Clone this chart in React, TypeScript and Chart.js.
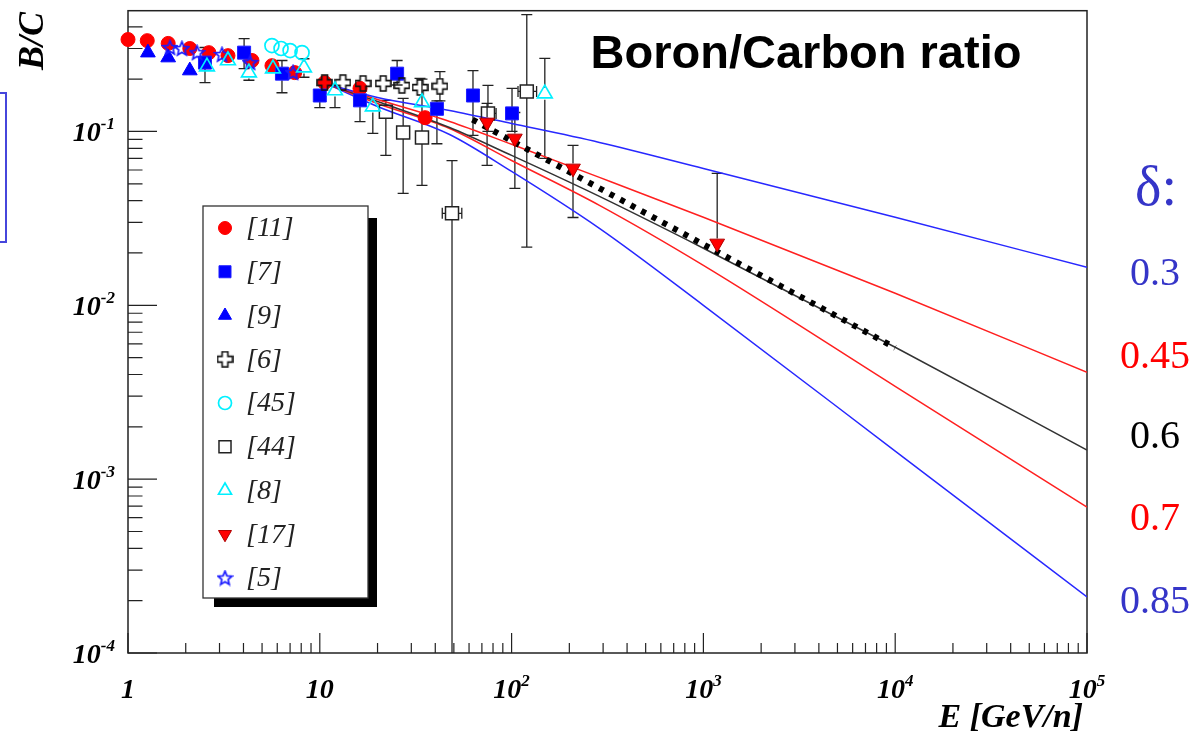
import React, { useEffect, useRef } from 'react';
import { Chart, registerables } from 'chart.js';
import { drawPoint } from 'chart.js/helpers';

Chart.register(...registerables);

// ---------------- data ----------------
// [11] red filled circles
const E_11 = [1, 1.26, 1.62, 2.1, 2.64, 3.32, 4.43, 5.63, 7.4, 10.6, 16.2, 35.4];
const V_11 = [0.338, 0.333, 0.321, 0.3, 0.284, 0.273, 0.256, 0.239, 0.218, 0.191, 0.177, 0.12];

// [7] blue filled squares
const E_7 = [2.52, 4.03, 6.35, 10.0, 16.2, 25.3, 40.8, 62.9, 100.5];
const V_7 = [0.249, 0.284, 0.215, 0.161, 0.151, 0.215, 0.135, 0.161, 0.127];
const V_7_HI = [0.304, 0.342, 0.256, 0.177, 0.17, 0.256, 0.15, 0.224, 0.177];
const V_7_LO = [0.191, 0.23, 0.167, 0.137, 0.114, 0.185, 0.085, 0.095, 0.1];

// [9] blue filled triangles
const E_9 = [1.27, 1.62, 2.1];
const V_9 = [0.284, 0.266, 0.224];

// [6] open crosses
const E_6 = [10.6, 13.2, 16.8, 21.4, 26.8, 33.3, 42.3];
const V_6 = [0.191, 0.191, 0.189, 0.189, 0.184, 0.179, 0.182];
const V_6_HI = [0.2, 0.2, 0.2, 0.2, 0.195, 0.202, 0.221];
const V_6_LO = [0.182, 0.182, 0.18, 0.18, 0.175, 0.17, 0.15];

// [45] cyan open circles
const E_45 = [5.63, 6.28, 7.0, 8.08];
const V_45 = [0.312, 0.3, 0.292, 0.284];

// [44] black open squares
const E_44 = [22.1, 27.2, 34.1, 48.9, 75.3, 120];
const V_44 = [0.13, 0.0987, 0.0924, 0.0338, 0.127, 0.17];
const V_44_HI = [0.151, 0.155, 0.2, 0.068, 0.184, 0.47];
const V_44_LO = [0.0728, 0.044, 0.049, 0.000001, 0.1, 0.0216];
const E_44_LO = [22.1, 27.2, 34.1, 43.5, 70, 108];
const E_44_HI = [22.1, 27.2, 34.1, 55, 83, 135];

// [8] cyan open triangles
const E_8 = [2.58, 3.32, 4.27, 5.7, 8.27, 12.0, 18.9, 34.1, 149];
const V_8 = [0.236, 0.256, 0.218, 0.23, 0.233, 0.172, 0.139, 0.147, 0.165];
const V_8_HI = [0.25, 0.256, 0.218, 0.23, 0.262, 0.18, 0.145, 0.147, 0.263];
const V_8_LO = [0.22, 0.256, 0.197, 0.23, 0.205, 0.137, 0.0974, 0.147, 0.07];

// [17] red filled down triangles
const E_17 = [74.5, 104, 209, 1180];
const V_17 = [0.1127, 0.0912, 0.0613, 0.0227];
const V_17_HI = [0.145, 0.1285, 0.0831, 0.0574];
const V_17_LO = [0.0638, 0.047, 0.032, 0.0227];

// [5] blue open stars
const E_5 = [1.655, 1.91, 2.29, 3.09, 4.33, 7.25];
const V_5 = [0.304, 0.3, 0.284, 0.277, 0.249, 0.218];

// model curves for different delta
const E_MODEL = [11, 20, 47.5, 100, 287, 1000, 10000, 100000];
const D_030 = [0.187, 0.1568, 0.132, 0.1111, 0.0865, 0.0613, 0.0321, 0.01653];
const D_045 = [0.187, 0.1528, 0.1142, 0.0844, 0.0544, 0.0321, 0.01172, 0.00412];
const D_060 = [0.187, 0.1487, 0.1054, 0.0728, 0.0423, 0.0213, 0.00574, 0.00147];
const D_070 = [0.187, 0.1449, 0.104, 0.0681, 0.0376, 0.01698, 0.00342, 0.00069];
const D_085 = [0.187, 0.1392, 0.0961, 0.0589, 0.0277, 0.01, 0.00145, 0.00021];

// dotted fit
const E_DOT = [62.5, 1000, 10000];
const V_DOT = [0.117, 0.0224, 0.0057];

// axis ticks / labels
const X_MAJOR = [1, 10, 100, 1000, 10000, 100000];
const X_LABEL_BASE = ['1', '10', '10', '10', '10', '10'];
const X_LABEL_EXP = ['', '', '2', '3', '4', '5'];
const Y_MAJOR = [0.1, 0.01, 0.001, 0.0001];
const Y_LABEL_EXP = ['-1', '-2', '-3', '-4'];

const DELTA_LABELS = ['0.3', '0.45', '0.6', '0.7', '0.85'];
const DELTA_COLORS = ['#3535c8', '#ff0000', '#000000', '#ff0000', '#3535c8'];

const LEGEND_ORDER = ['[11]', '[7]', '[9]', '[6]', '[45]', '[44]', '[8]', '[17]', '[5]'];

// ---------------- helpers ----------------
const pts = (E: number[], V: number[]) => E.map((e, i) => ({ x: e, y: V[i] }));

function makeStar(color: string, size: number) {
  const c = document.createElement('canvas');
  c.width = size;
  c.height = size;
  const ctx = c.getContext('2d')!;
  const cx = size / 2, cy = size / 2 + 0.5;
  const R = size / 2 - 1.2, r = R * 0.45;
  ctx.beginPath();
  for (let i = 0; i < 10; i++) {
    const a = -Math.PI / 2 + (i * Math.PI) / 5;
    const rr = i % 2 === 0 ? R : r;
    const px = cx + rr * Math.cos(a), py = cy + rr * Math.sin(a);
    if (i === 0) ctx.moveTo(px, py); else ctx.lineTo(px, py);
  }
  ctx.closePath();
  ctx.strokeStyle = color;
  ctx.lineWidth = 1.7;
  ctx.stroke();
  return c;
}

function makeOpenCross(color: string, size: number) {
  const c = document.createElement('canvas');
  c.width = size;
  c.height = size;
  const ctx = c.getContext('2d')!;
  const m = size / 2;
  const R = size / 2 - 1;
  const a = size * 0.17;
  const p = [[-a, -R], [a, -R], [a, -a], [R, -a], [R, a], [a, a], [a, R], [-a, R], [-a, a], [-R, a], [-R, -a], [-a, -a]];
  ctx.beginPath();
  p.forEach(([x, y], i) => (i === 0 ? ctx.moveTo(m + x, m + y) : ctx.lineTo(m + x, m + y)));
  ctx.closePath();
  ctx.strokeStyle = color;
  ctx.lineWidth = 1.6;
  ctx.stroke();
  return c;
}

function drawPow(ctx: CanvasRenderingContext2D, base: string, exp: string, x: number, y: number,
  align: 'center' | 'right', baseFont: string, supFont: string, rise: number) {
  ctx.font = baseFont;
  const wb = ctx.measureText(base).width;
  ctx.font = supFont;
  const ws = exp ? ctx.measureText(exp).width : 0;
  const total = wb + ws;
  const x0 = align === 'center' ? x - total / 2 : x - total;
  ctx.textAlign = 'left';
  ctx.font = baseFont;
  ctx.fillText(base, x0, y);
  if (exp) {
    ctx.font = supFont;
    ctx.fillText(exp, x0 + wb, y - rise);
  }
}

// ---------------- plugins ----------------
const framePlugin = {
  id: 'rootFrame',
  beforeDatasetsDraw(chart: any) {
    const ctx: CanvasRenderingContext2D = chart.ctx;
    const { left, right, top, bottom } = chart.chartArea;
    const xs = chart.scales.x, ys = chart.scales.y;
    ctx.save();
    ctx.strokeStyle = '#222';
    ctx.lineWidth = 1.5;
    ctx.strokeRect(left, top, right - left, bottom - top);
    ctx.lineWidth = 1.2;
    ctx.beginPath();
    for (let k = 0; k <= 5; k++) {
      for (let m = 1; m <= 9; m++) {
        const v = m * Math.pow(10, k);
        if (v > 100000 || v < 1) continue;
        const px = xs.getPixelForValue(v);
        const len = m === 1 ? 20 : 10;
        ctx.moveTo(px, bottom);
        ctx.lineTo(px, bottom - len);
      }
    }
    for (let k = -4; k <= -1; k++) {
      for (let m = 1; m <= 9; m++) {
        const v = m * Math.pow(10, k);
        if (v > ys.max) continue;
        const py = ys.getPixelForValue(v);
        const len = m === 1 ? 29 : 14.5;
        ctx.moveTo(left, py);
        ctx.lineTo(left + len, py);
      }
    }
    ctx.stroke();
    ctx.restore();
  },
};

const errorBarPlugin = {
  id: 'errBars',
  beforeDatasetsDraw(chart: any) {
    const ctx: CanvasRenderingContext2D = chart.ctx;
    const xs = chart.scales.x, ys = chart.scales.y;
    const area = chart.chartArea;
    ctx.save();
    ctx.beginPath();
    ctx.rect(area.left, area.top - 4, area.right - area.left, area.bottom - area.top + 4);
    ctx.clip();
    ctx.strokeStyle = '#222';
    ctx.lineWidth = 1.3;
    const cap = 5.5;
    chart.data.datasets.forEach((ds: any) => {
      if (!ds.errHi) return;
      const g = ds.errGap || 0;
      ds.data.forEach((p: any, i: number) => {
        const px = xs.getPixelForValue(p.x);
        const py = ys.getPixelForValue(p.y);
        const hi = ys.getPixelForValue(ds.errHi[i]);
        const lo = ys.getPixelForValue(Math.max(ds.errLo[i], 1e-9));
        ctx.beginPath();
        if (py - hi > g + 1) {
          ctx.moveTo(px, hi); ctx.lineTo(px, py - g);
          ctx.moveTo(px - cap, hi); ctx.lineTo(px + cap, hi);
        }
        if (lo - py > g + 1) {
          ctx.moveTo(px, py + g); ctx.lineTo(px, lo);
          if (lo < area.bottom) { ctx.moveTo(px - cap, lo); ctx.lineTo(px + cap, lo); }
        }
        if (ds.xErrLo) {
          const xl = xs.getPixelForValue(ds.xErrLo[i]);
          const xh = xs.getPixelForValue(ds.xErrHi[i]);
          if (px - xl > g + 1) {
            ctx.moveTo(xl, py); ctx.lineTo(px - g, py);
            ctx.moveTo(xl, py - cap); ctx.lineTo(xl, py + cap);
          }
          if (xh - px > g + 1) {
            ctx.moveTo(px + g, py); ctx.lineTo(xh, py);
            ctx.moveTo(xh, py - cap); ctx.lineTo(xh, py + cap);
          }
        }
        ctx.stroke();
      });
    });
    ctx.restore();
  },
};

const decorPlugin = {
  id: 'decor',
  afterDraw(chart: any) {
    const ctx: CanvasRenderingContext2D = chart.ctx;
    const xs = chart.scales.x, ys = chart.scales.y;
    const { left, bottom, right } = chart.chartArea;
    ctx.save();
    ctx.fillStyle = '#000';
    ctx.textBaseline = 'alphabetic';
    const bf = 'italic bold 28px "Liberation Serif"';
    const sf = 'italic bold 17px "Liberation Serif"';
    X_MAJOR.forEach((v, i) => {
      drawPow(ctx, X_LABEL_BASE[i], X_LABEL_EXP[i], xs.getPixelForValue(v), bottom + 45, 'center', bf, sf, 12);
    });
    Y_MAJOR.forEach((v, i) => {
      drawPow(ctx, '10', Y_LABEL_EXP[i], left - 13, ys.getPixelForValue(v) + 10, 'right', bf, sf, 12);
    });
    ctx.font = 'italic bold 34px "Liberation Serif"';
    ctx.textAlign = 'right';
    ctx.fillText('E [GeV/n]', right - 4, bottom + 74);
    ctx.save();
    ctx.translate(43, 12);
    ctx.rotate(-Math.PI / 2);
    ctx.font = 'italic bold 36px "Liberation Serif"';
    ctx.textAlign = 'right';
    ctx.fillText('B/C', 0, 0);
    ctx.restore();

    ctx.font = 'bold 47px "Liberation Sans"';
    ctx.textAlign = 'center';
    ctx.fillText('Boron/Carbon ratio', 806, 68);

    ctx.fillStyle = '#3535c8';
    ctx.font = '56px "Liberation Serif"';
    ctx.fillText('\u03b4:', 1156, 205);
    ctx.font = '40px "Liberation Serif"';
    const dy = [285, 368, 448, 530, 613];
    DELTA_LABELS.forEach((t, i) => {
      ctx.fillStyle = DELTA_COLORS[i];
      ctx.fillText(t, 1155, dy[i]);
    });

    ctx.strokeStyle = '#4646dc';
    ctx.lineWidth = 2;
    ctx.strokeRect(-20, 93, 26, 149);

    const lx = 203, ly = 206, lw = 165, lh = 392;
    ctx.fillStyle = '#000';
    ctx.fillRect(lx + 11, ly + 12, lw - 2, lh - 3);
    ctx.fillRect(lx + lw, ly + 12, 8, lh - 3);
    ctx.fillStyle = '#fff';
    ctx.fillRect(lx, ly, lw, lh);
    ctx.strokeStyle = '#333';
    ctx.lineWidth = 1.3;
    ctx.strokeRect(lx, ly, lw, lh);
    LEGEND_ORDER.forEach((lab, i) => {
      const ds: any = chart.data.datasets.find((d: any) => d.label === lab);
      const y = 228 + i * 43.75;
      if (ds) {
        ctx.save();
        ctx.fillStyle = ds.pointBackgroundColor;
        ctx.strokeStyle = ds.pointBorderColor;
        ctx.lineWidth = ds.pointBorderWidth;
        drawPoint(ctx, {
          pointStyle: ds.pointStyle,
          rotation: ds.pointRotation || 0,
          radius: ds.legendRadius || ds.pointRadius,
          borderWidth: ds.pointBorderWidth,
        } as any, 225, y);
        ctx.restore();
      }
      ctx.fillStyle = '#222';
      ctx.font = 'italic 28px "Liberation Serif"';
      ctx.textAlign = 'left';
      ctx.textBaseline = 'middle';
      ctx.fillText(lab, 246, y + 1);
      ctx.textBaseline = 'alphabetic';
    });
    ctx.restore();
  },
};

// ---------------- component ----------------
export default function App() {
  const ref = useRef<HTMLCanvasElement | null>(null);

  useEffect(() => {
    if (!ref.current) return;
    const star = makeStar('#1a1aff', 17);
    const cross = makeOpenCross('#111', 17);
    const modelLine = (label: string, data: number[], color: string) => ({
      label, data: pts(E_MODEL, data), showLine: true, borderColor: color, borderWidth: 1.5,
      pointRadius: 0, fill: false, order: 20, cubicInterpolationMode: 'monotone',
    });
    const chart = new Chart(ref.current, {
      type: 'scatter',
      data: {
        datasets: [
          {
            label: '[17]', data: pts(E_17, V_17), pointStyle: 'triangle', pointRotation: 180, pointRadius: 8.5,
            pointBackgroundColor: '#ff0000', pointBorderColor: '#b00000', pointBorderWidth: 1, legendRadius: 7.5,
            errHi: V_17_HI, errLo: V_17_LO, errGap: 5, order: 1, clip: false,
          },
          {
            label: '[8]', data: pts(E_8, V_8), pointStyle: 'triangle', pointRadius: 8.5,
            pointBackgroundColor: 'rgba(0,0,0,0)', pointBorderColor: '#00f0ff', pointBorderWidth: 1.7, legendRadius: 7.5,
            errHi: V_8_HI, errLo: V_8_LO, errGap: 6, order: 2, clip: false,
          },
          {
            label: '[5]', data: pts(E_5, V_5), pointStyle: star, pointRadius: 8,
            pointBackgroundColor: 'rgba(0,0,0,0)', pointBorderColor: '#1a1aff', pointBorderWidth: 1.5,
            order: 3, clip: false,
          },
          {
            label: '[6]', data: pts(E_6, V_6), pointStyle: cross, pointRadius: 8,
            pointBackgroundColor: 'rgba(0,0,0,0)', pointBorderColor: '#111', pointBorderWidth: 1.5,
            errHi: V_6_HI, errLo: V_6_LO, errGap: 7.5, order: 4, clip: false,
          },
          {
            label: '[44]', data: pts(E_44, V_44), pointStyle: 'rect', pointRadius: 9.2,
            pointBackgroundColor: 'rgba(0,0,0,0)', pointBorderColor: '#222', pointBorderWidth: 1.5, legendRadius: 8.5,
            errHi: V_44_HI, errLo: V_44_LO, xErrLo: E_44_LO, xErrHi: E_44_HI, errGap: 6.5, order: 5, clip: false,
          },
          {
            label: '[45]', data: pts(E_45, V_45), pointStyle: 'circle', pointRadius: 7,
            pointBackgroundColor: 'rgba(0,0,0,0)', pointBorderColor: '#00f0ff', pointBorderWidth: 1.7, legendRadius: 6.5,
            order: 6, clip: false,
          },
          {
            label: '[9]', data: pts(E_9, V_9), pointStyle: 'triangle', pointRadius: 8.5,
            pointBackgroundColor: '#0000ff', pointBorderColor: '#0000ff', pointBorderWidth: 1, legendRadius: 7.5,
            order: 7, clip: false,
          },
          {
            label: '[7]', data: pts(E_7, V_7), pointStyle: 'rect', pointRadius: 9.2,
            pointBackgroundColor: '#0000ff', pointBorderColor: '#2020ff', pointBorderWidth: 1, legendRadius: 8.5,
            errHi: V_7_HI, errLo: V_7_LO, errGap: 6.5, order: 8, clip: false,
          },
          {
            label: '[11]', data: pts(E_11, V_11), pointStyle: 'circle', pointRadius: 7,
            pointBackgroundColor: '#ff0000', pointBorderColor: '#ff0000', pointBorderWidth: 1, legendRadius: 6.5,
            order: 9, clip: false,
          },
          {
            label: 'fit', data: pts(E_DOT, V_DOT), showLine: true, borderColor: '#000', borderWidth: 6,
            borderDash: [5, 7], borderCapStyle: 'butt', pointRadius: 0, order: 10,
          },
          modelLine('d0.3', D_030, '#2828ff'),
          modelLine('d0.45', D_045, '#ff2020'),
          modelLine('d0.6', D_060, '#333333'),
          modelLine('d0.7', D_070, '#ff2020'),
          modelLine('d0.85', D_085, '#2828ff'),
        ] as any,
      },
      options: {
        responsive: false,
        animation: false,
        events: [],
        layout: { padding: { left: 0, right: 110, top: 10, bottom: 0 } },
        plugins: { legend: { display: false }, tooltip: { enabled: false }, title: { display: false } },
        scales: {
          x: {
            type: 'logarithmic', min: 1, max: 100000,
            grid: { display: false }, border: { display: false }, ticks: { display: false },
            afterFit: (s: any) => { s.height = 80; },
          },
          y: {
            type: 'logarithmic', min: 0.0001, max: 0.495,
            grid: { display: false }, border: { display: false }, ticks: { display: false },
            afterFit: (s: any) => { s.width = 128; },
          },
        },
      } as any,
      plugins: [framePlugin, errorBarPlugin, decorPlugin],
    });
    return () => chart.destroy();
  }, []);

  return (
    <div style={{ position: 'absolute', left: 0, top: 0, width: 1197, height: 733, background: '#fff' }}>
      <canvas ref={ref} width={1197} height={733} style={{ display: 'block' }} />
    </div>
  );
}
